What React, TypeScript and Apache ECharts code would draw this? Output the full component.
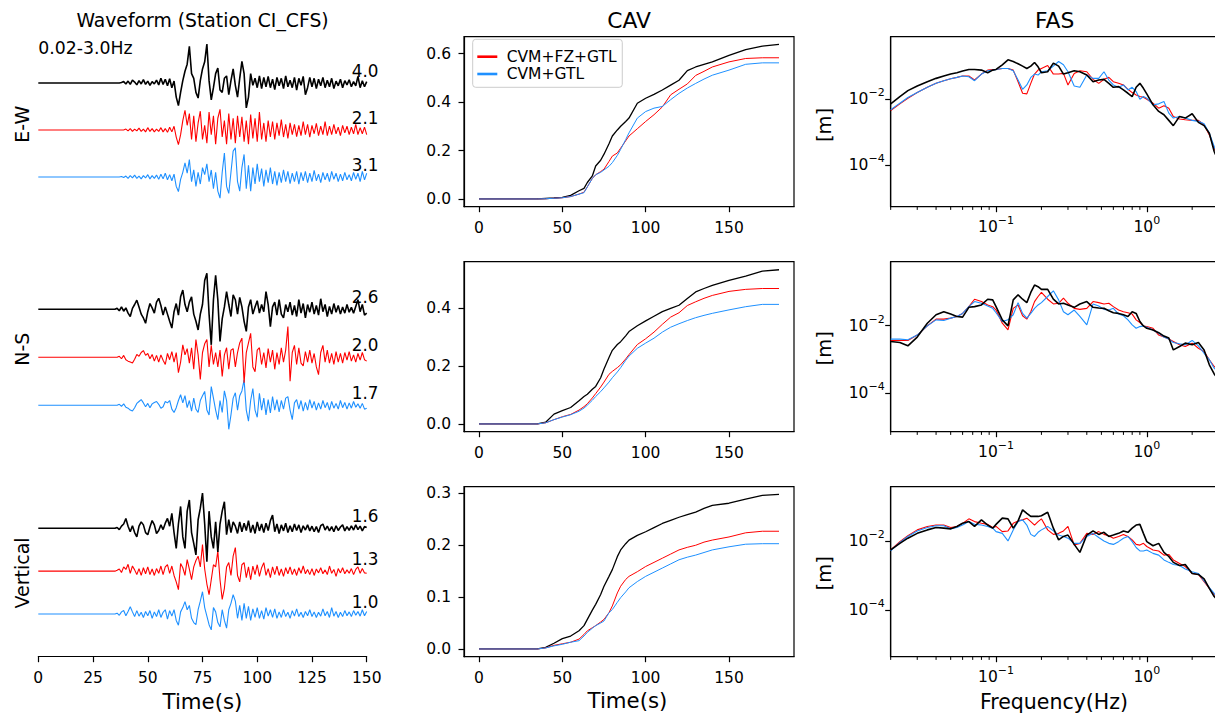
import React, { useEffect, useRef } from 'react';
import * as echarts from 'echarts';

const FONT = 'DejaVu Sans';
const C_OBS = '#000000';
const C_FZ = '#ff0000';
const C_GTL = '#1e90ff';
const NAME_OBS = 'Data';
const NAME_FZ = 'CVM+FZ+GTL';
const NAME_GTL = 'CVM+GTL';

const COMPONENTS = ['E-W', 'N-S', 'Vertical'];

// ---------------- Waveforms (normalised velocity, % of trace spacing), 1 s samples from 35 s ----------------
const WAVE_PRE_T = 0;
const WAVE_START = 35;
const WAVE_DT = 1;

const WAVE_EW_OBS = [
  0, 0, 0, 1, 3, -2, 4, -3, 6, 2,
  -4, 5, -2, 7, -3, 4, -5, 3, -2, 6,
  -4, 10, -3, 8, -6, 9, -10, 4, -30, -48,
  -20, 5, 25, 40, 78, 20, 10, -20, -32, 5,
  30, 45, 83, 5, -36, -10, 20, 32, -15, -20,
  10, 15, -25, 5, 30, -5, -30, 10, 46, 20,
  -53, -30, 20, -5, 10, -10, 15, -12, 12, -8,
  14, -10, 8, -14, 12, -6, 10, -12, 15, -8,
  6, -10, 12, -15, 10, -5, 14, -25, -10, 12,
  -8, 10, -12, 8, -6, 12, -10, 6, -8, 10,
  -12, 4, -6, 8, -10, 5, -4, 7, -8, 3,
  -6, 14, -10, 5, -8, 3,
];
const WAVE_EW_FZ = [
  0, 0, 0, 0, 0, 2, -2, 3, -3, 2,
  -2, 4, -3, 2, -4, 5, -3, 3, -4, 2,
  -3, 5, -4, 3, -5, 6, -4, 8, -15, -31,
  -10, 20, 42, 10, 35, -20, 30, -25, 15, 40,
  -20, 10, -28, 38, -10, 30, -30, 25, 44, -15,
  20, -30, 35, -20, 25, -28, 30, -15, 28, -25,
  20, -30, 33, -18, 25, -25, 38, -20, 15, -25,
  20, -15, 18, -20, 15, -12, 22, -15, 12, -18,
  15, -10, 12, -14, 10, -12, 18, -10, 12, -15,
  10, -8, 14, -12, 8, -10, 18, -12, 8, -10,
  12, -8, 6, -12, 10, -6, 8, -10, 6, -8,
  12, -10, 5, -8, 6, -10,
];
const WAVE_EW_GTL = [
  0, 0, 0, 1, -1, 2, -3, 3, -2, 4,
  -3, 2, -4, 3, -2, 5, -4, 3, -3, 4,
  -5, 6, -4, 8, -6, 5, -8, 6, -20, -31,
  -5, 10, 30, 8, 37, -10, 15, -20, 10, -15,
  20, 5, 28, -10, 15, -25, 10, -30, -45, 10,
  51, -20, -35, 10, 55, 62, -10, -30, 20, 48,
  -25, 25, -30, 20, -15, 28, -10, 18, -20, 15,
  -12, 20, -15, 12, -18, 10, -12, 15, -10, 12,
  -14, 8, -10, 12, -15, 10, -8, 12, -12, 8,
  -10, 14, -8, 6, -12, 10, -6, 8, -10, 12,
  -5, 8, -10, 6, -8, 10, -6, 5, -8, 10,
  -5, 8, -10, 12, -6, 8,
];
const WAVE_NS_OBS = [
  0, 2, -3, 5, -4, 3, -8, -15, 2, 10,
  19, 5, -10, -18, -29, -5, 12, 3, -8, 15,
  23, 8, -12, 5, -10, -25, -39, -5, 12, -12,
  26, 40, 10, -5, 15, 26, -10, -25, -43, -10,
  10, 60, 75, -10, -74, 20, 71, 20, -67, -20,
  5, 37, 10, -15, 30, 20, -10, 25, 5, -25,
  -46, 5, 20, -10, 5, 18, -8, 10, -5, 37,
  10, -36, 5, 15, -12, 20, -10, -18, 10, -5,
  15, -12, 8, -15, 20, -8, 12, -18, 10, -6,
  15, -10, 8, -12, 22, -5, 10, -15, 6, -10,
  12, -6, 8, -10, 5, -8, 10, -6, 4, -8,
  6, 20, -5, 10, -12, -8,
];
const WAVE_NS_FZ = [
  0, 0, 2, -3, 4, -5, -8, -10, -12, -4,
  6, 2, 10, 14, 4, 8, -3, 6, -8, 4,
  -10, 5, -6, -15, 8, -5, 12, -10, 10, -32,
  -10, 26, 5, 18, -12, 20, -25, 37, 5, -46,
  10, 28, 37, -20, 25, -15, 10, -20, 15, -40,
  5, 20, -25, 15, 18, -20, 10, 30, 40, -53,
  10, 30, 50, -20, -30, 15, 20, -15, 10, -22,
  18, -10, 15, -25, 10, -15, 20, -10, 15, 64,
  -50, 10, 25, -15, 20, -12, -18, 12, -10, 15,
  -12, 8, -20, -36, 10, 25, -10, 15, -12, 8,
  -15, 12, -10, 8, -12, 10, -6, 12, -8, 5,
  -10, 8, -6, 10, -5, -8,
];
const WAVE_NS_GTL = [
  0, 0, 2, -2, 3, -4, -6, -10, -12, -5,
  4, 8, 12, 5, -3, 4, -5, 3, 6, 8,
  2, -6, -3, 8, 5, 10, -8, -15, -5, 10,
  22, 5, 20, -5, 10, -12, 15, -8, -15, 10,
  20, 29, -10, -20, 39, 15, -10, -30, 10, -15,
  30, 10, -50, -20, 15, 26, -10, 20, 30, 53,
  -10, -33, 10, 35, -10, -25, 25, -10, 15, -20,
  12, -16, 18, -10, 12, -14, 10, -8, 15, 18,
  -10, -30, 5, 12, -8, 10, -12, 6, -10, 12,
  -6, 8, -10, 5, -8, 10, -5, 6, -10, 8,
  -6, 4, -8, 10, -5, 6, -8, 5, -6, 8,
  -4, 3, -6, 4, -8, -6,
];
const WAVE_UD_OBS = [
  0, 2, -3, 5, 10, 23, 5, -8, 6, -10,
  -20, 5, 15, 8, -10, -15, 3, 18, 8, -12,
  -5, 8, -3, 12, 23, 5, 35, -10, -47, 10,
  51, -20, -47, 40, 66, -10, -35, -62, 20, 47,
  82, 10, -78, 40, -20, -47, 15, -55, 10, 40,
  62, -15, 20, -10, 15, 5, -12, 15, -8, 12,
  -5, 18, -10, 8, -12, 15, -6, 10, -10, 12,
  -5, 18, 31, -8, 10, -12, 8, -6, 12, -10,
  6, -8, 10, -5, 8, -10, 6, -4, 8, -6,
  5, -8, 4, -10, 6, 10, -4, 5, -6, 4,
  -8, 6, -5, 3, 8, -6, 4, -5, 6, -4,
  8, -3, 5, -6, 4, 2,
];
const WAVE_UD_FZ = [
  0, 2, 5, -3, 10, 4, 16, -5, 12, 3,
  -8, 6, -10, 8, -6, 10, -8, 5, -10, 6,
  -5, 12, -8, 10, 15, -5, 12, -10, -25, -43,
  18, 8, -10, 27, 5, -20, 10, 25, 35, 10,
  62, 5, -30, -55, -20, 15, 10, 47, -20, -66,
  -40, 10, 20, -10, 35, 55, -10, -25, 15, 20,
  -15, 10, -20, 12, -8, 15, -12, 8, 20, -10,
  6, -15, 10, -8, 12, -10, 5, -12, 8, -6,
  10, -8, 5, -10, 8, -5, 12, -6, 4, -8,
  6, -10, 5, -4, 8, -6, 3, -8, 12, -5,
  4, -12, 6, -4, 8, -6, 3, -5, 6, -8,
  4, 10, -5, 6, -4, -5,
];
const WAVE_UD_GTL = [
  0, 2, -3, 5, 8, -4, 6, 17, 5, -6,
  8, -5, 4, -8, 6, -4, 8, -10, 5, -6,
  10, -8, 4, 10, -12, 8, -5, 10, -15, -26,
  5, 15, 29, 10, 20, -10, -20, -25, 10, 30,
  52, 15, -5, -25, -37, 15, 5, -20, -30, 10,
  -15, -33, 10, 25, 45, 30, -10, 20, -15, 25,
  -10, 18, -15, 12, -8, 15, -10, 8, -12, 15,
  -5, 10, -8, 12, -10, 5, -8, 10, -6, 4,
  -10, 8, -5, 12, -6, 4, -8, 6, -4, 10,
  -6, 5, -8, 4, -5, 12, -4, 6, -8, 15,
  -5, 6, -8, 4, -6, 8, -4, 5, -6, 8,
  -3, 6, -5, 10, -4, 6,
];
// peak values printed at the end of each trace
const PEAK_EW = [4.0, 2.1, 3.1];
const PEAK_NS = [2.6, 2.0, 1.7];
const PEAK_UD = [1.6, 1.3, 1.0];

// ---------------- CAV ----------------
const CAV_T = [0, 35, 40, 45, 50, 55, 60, 63, 65, 68, 70, 73, 75, 78, 80, 83, 85, 88, 90, 95, 100, 105, 110, 115, 120, 125, 130, 135, 140, 150, 160, 170, 180];
const CAV_EW_OBS = [0, 0, 0.002, 0.004, 0.007, 0.015, 0.034, 0.044, 0.068, 0.095, 0.136, 0.16, 0.185, 0.228, 0.26, 0.285, 0.3, 0.32, 0.334, 0.395, 0.416, 0.432, 0.45, 0.47, 0.49, 0.53, 0.545, 0.556, 0.566, 0.593, 0.617, 0.631, 0.638];
const CAV_EW_FZ = [0, 0, 0.001, 0.003, 0.005, 0.01, 0.02, 0.028, 0.05, 0.085, 0.1, 0.113, 0.123, 0.155, 0.177, 0.19, 0.21, 0.24, 0.26, 0.29, 0.32, 0.348, 0.38, 0.43, 0.453, 0.475, 0.51, 0.527, 0.545, 0.566, 0.58, 0.583, 0.583];
const CAV_EW_GTL = [0, 0, 0.001, 0.003, 0.005, 0.01, 0.02, 0.026, 0.05, 0.085, 0.1, 0.11, 0.12, 0.135, 0.15, 0.18, 0.205, 0.245, 0.273, 0.334, 0.361, 0.375, 0.382, 0.41, 0.436, 0.458, 0.477, 0.495, 0.511, 0.532, 0.556, 0.562, 0.562];
const CAV_NS_OBS = [0, 0, 0.006, 0.034, 0.046, 0.057, 0.08, 0.095, 0.103, 0.12, 0.13, 0.16, 0.19, 0.23, 0.255, 0.275, 0.285, 0.305, 0.32, 0.34, 0.357, 0.373, 0.389, 0.4, 0.411, 0.434, 0.457, 0.469, 0.48, 0.497, 0.512, 0.529, 0.534];
const CAV_NS_FZ = [0, 0, 0.004, 0.015, 0.025, 0.033, 0.048, 0.06, 0.07, 0.09, 0.105, 0.128, 0.145, 0.172, 0.182, 0.195, 0.205, 0.225, 0.24, 0.275, 0.295, 0.318, 0.345, 0.37, 0.385, 0.41, 0.423, 0.435, 0.445, 0.459, 0.466, 0.469, 0.469];
const CAV_NS_GTL = [0, 0, 0.004, 0.015, 0.024, 0.032, 0.044, 0.055, 0.065, 0.082, 0.095, 0.112, 0.125, 0.145, 0.16, 0.18, 0.195, 0.22, 0.235, 0.262, 0.28, 0.297, 0.318, 0.335, 0.347, 0.358, 0.368, 0.376, 0.383, 0.395, 0.406, 0.414, 0.414];
const CAV_UD_OBS = [0, 0, 0.003, 0.011, 0.02, 0.025, 0.035, 0.045, 0.057, 0.075, 0.086, 0.105, 0.121, 0.14, 0.153, 0.178, 0.191, 0.203, 0.21, 0.219, 0.226, 0.234, 0.242, 0.248, 0.254, 0.259, 0.264, 0.271, 0.277, 0.281, 0.289, 0.296, 0.298];
const CAV_UD_FZ = [0, 0, 0.002, 0.007, 0.01, 0.013, 0.019, 0.028, 0.035, 0.041, 0.045, 0.052, 0.057, 0.07, 0.083, 0.108, 0.121, 0.134, 0.14, 0.149, 0.159, 0.167, 0.175, 0.183, 0.191, 0.196, 0.2, 0.206, 0.21, 0.216, 0.224, 0.227, 0.227];
const CAV_UD_GTL = [0, 0, 0.002, 0.006, 0.009, 0.013, 0.016, 0.025, 0.032, 0.04, 0.045, 0.05, 0.054, 0.07, 0.076, 0.09, 0.099, 0.11, 0.118, 0.13, 0.14, 0.148, 0.156, 0.164, 0.172, 0.177, 0.181, 0.186, 0.191, 0.197, 0.202, 0.203, 0.203];

// ---------------- FAS (log10 of amplitude in m) ----------------
const FAS_FREQ = [0.02, 0.023, 0.026, 0.03, 0.035, 0.04, 0.045, 0.05, 0.055, 0.06, 0.066, 0.072, 0.08, 0.088, 0.095, 0.1, 0.11, 0.12, 0.13, 0.14, 0.15, 0.16, 0.17, 0.18, 0.19, 0.2, 0.22, 0.24, 0.26, 0.28, 0.3, 0.33, 0.36, 0.4, 0.44, 0.48, 0.52, 0.56, 0.6, 0.65, 0.7, 0.75, 0.8, 0.85, 0.9, 0.95, 1.0, 1.1, 1.2, 1.3, 1.4, 1.5, 1.65, 1.8, 2.0, 2.2, 2.4, 2.6, 2.8, 3.0];
const FAS_EW_OBS = [
  -2.14, -1.92, -1.74, -1.6, -1.47, -1.37, -1.3, -1.24, -1.2, -1.15,
  -1.1, -1.1, -1.12, -1.2, -1.12, -1.1, -0.96, -0.81, -0.86, -0.93,
  -1.0, -1.07, -1.0, -0.89, -1.02, -1.2, -1.17, -0.91, -1.0, -1.24,
  -1.2, -1.14, -1.17, -1.27, -1.47, -1.42, -1.4, -1.52, -1.64, -1.62,
  -1.72, -1.82, -1.92, -1.64, -1.52, -1.67, -1.84, -2.17, -2.37, -2.47,
  -2.64, -2.8, -2.52, -2.57, -2.44, -2.7, -2.8, -3.03, -3.58, -3.9,
];
const FAS_EW_FZ = [
  -2.34, -2.14, -1.97, -1.8, -1.64, -1.52, -1.44, -1.38, -1.34, -1.3,
  -1.3, -1.42, -1.24, -1.12, -1.1, -1.1, -1.07, -1.07, -1.12, -1.47,
  -1.82, -1.84, -1.52, -1.24, -1.12, -1.07, -0.98, -1.24, -1.24, -1.22,
  -1.57, -1.22, -1.14, -1.17, -1.4, -1.52, -1.4, -1.34, -1.47, -1.52,
  -1.57, -1.7, -1.8, -1.87, -1.92, -1.94, -2.0, -2.12, -2.27, -2.2,
  -2.27, -2.52, -2.6, -2.62, -2.64, -2.64, -2.77, -3.08, -3.48, -3.8,
];
const FAS_EW_GTL = [
  -2.32, -2.12, -1.95, -1.8, -1.64, -1.52, -1.44, -1.38, -1.34, -1.3,
  -1.32, -1.44, -1.24, -1.14, -1.12, -1.1, -1.07, -1.07, -1.14, -1.42,
  -1.7, -1.57, -1.34, -1.24, -1.27, -1.17, -1.14, -1.0, -0.86, -0.96,
  -1.17, -1.6, -1.64, -1.27, -1.37, -1.37, -1.17, -1.42, -1.57, -1.64,
  -1.57, -1.72, -1.64, -1.77, -2.0, -1.92, -1.97, -2.17, -2.14, -2.07,
  -2.42, -2.57, -2.52, -2.57, -2.64, -2.67, -2.74, -3.03, -3.43, -3.75,
];
const FAS_NS_OBS = [
  -2.47, -2.5, -2.6, -2.34, -1.93, -1.68, -1.59, -1.66, -1.73, -1.75,
  -1.46, -1.44, -1.39, -1.22, -1.24, -1.44, -1.83, -2.01, -1.24, -1.09,
  -1.22, -1.32, -1.02, -0.8, -0.85, -0.93, -0.93, -1.22, -1.36, -1.34,
  -1.39, -1.46, -1.36, -1.29, -1.46, -1.48, -1.49, -1.56, -1.62, -1.64,
  -1.68, -1.73, -1.59, -1.64, -1.88, -2.01, -2.08, -2.13, -2.21, -2.31,
  -2.37, -2.72, -2.62, -2.52, -2.57, -2.5, -2.72, -3.16, -3.43, -3.6,
];
const FAS_NS_FZ = [
  -2.44, -2.44, -2.44, -2.28, -2.01, -1.81, -1.81, -1.78, -1.73, -1.64,
  -1.44, -1.22, -1.29, -1.39, -1.44, -1.54, -1.93, -2.13, -1.49, -1.39,
  -1.71, -1.81, -1.59, -1.29, -1.14, -1.02, -1.22, -1.36, -1.34, -1.19,
  -1.34, -1.49, -1.52, -1.49, -1.29, -1.32, -1.36, -1.34, -1.44, -1.54,
  -1.59, -1.62, -1.66, -1.83, -1.91, -2.01, -2.03, -2.08, -2.28, -2.34,
  -2.4, -2.47, -2.57, -2.62, -2.52, -2.67, -2.77, -3.01, -3.21, -3.35,
];
const FAS_NS_GTL = [
  -2.4, -2.4, -2.42, -2.28, -2.01, -1.83, -1.85, -1.78, -1.73, -1.64,
  -1.44, -1.29, -1.34, -1.42, -1.49, -1.62, -1.88, -1.83, -1.68, -1.32,
  -1.64, -1.78, -1.64, -1.49, -1.39, -1.32, -1.14, -0.97, -1.24, -1.59,
  -1.68, -1.54, -1.73, -1.98, -1.36, -1.42, -1.52, -1.54, -1.49, -1.66,
  -1.71, -1.83, -1.98, -2.08, -2.03, -2.01, -2.05, -2.13, -2.23, -2.34,
  -2.4, -2.5, -2.54, -2.57, -2.44, -2.6, -2.82, -3.01, -3.26, -3.4,
];
const FAS_UD_OBS = [
  -2.26, -2.07, -1.92, -1.78, -1.68, -1.61, -1.63, -1.65, -1.58, -1.49,
  -1.44, -1.58, -1.39, -1.54, -1.63, -1.52, -1.34, -1.36, -1.63, -1.42,
  -1.1, -1.2, -1.29, -1.29, -1.29, -1.27, -1.17, -1.63, -1.97, -1.87,
  -1.83, -2.1, -2.33, -1.83, -1.71, -1.81, -1.75, -1.87, -1.83, -1.78,
  -1.71, -1.75, -1.63, -1.54, -1.52, -1.78, -2.02, -2.14, -2.07, -2.33,
  -2.45, -2.62, -2.71, -2.68, -2.94, -2.97, -3.1, -3.37, -3.61, -3.75,
];
const FAS_UD_FZ = [
  -2.26, -2.02, -1.85, -1.68, -1.58, -1.54, -1.54, -1.61, -1.58, -1.49,
  -1.36, -1.44, -1.49, -1.52, -1.61, -1.58, -1.73, -1.71, -1.49, -1.42,
  -1.39, -1.34, -1.44, -1.54, -1.44, -1.36, -1.68, -1.81, -1.78, -1.71,
  -1.58, -2.12, -2.07, -1.78, -1.81, -1.73, -1.81, -1.85, -1.92, -1.87,
  -1.81, -1.87, -1.97, -2.1, -2.12, -2.07, -2.16, -2.26, -2.29, -2.41,
  -2.39, -2.55, -2.65, -2.74, -2.94, -2.97, -3.18, -3.37, -3.55, -3.7,
];
const FAS_UD_GTL = [
  -2.29, -2.04, -1.87, -1.71, -1.61, -1.56, -1.56, -1.65, -1.61, -1.54,
  -1.44, -1.52, -1.54, -1.58, -1.63, -1.73, -1.78, -2.0, -1.68, -1.44,
  -1.39, -1.54, -1.81, -1.87, -1.75, -1.68, -1.58, -1.71, -1.83, -1.87,
  -1.92, -2.07, -2.07, -1.87, -1.78, -1.9, -2.0, -2.07, -2.1, -2.02,
  -1.92, -1.87, -2.02, -2.19, -2.29, -2.29, -2.26, -2.36, -2.41, -2.55,
  -2.62, -2.68, -2.71, -2.81, -2.89, -2.94, -3.16, -3.35, -3.52, -3.7,
];
const FAS_MAJOR_X = [0.1, 1];
const FAS_MINOR_X = [0.02, 0.03, 0.04, 0.05, 0.06, 0.07, 0.08, 0.09, 0.2, 0.3, 0.4, 0.5, 0.6, 0.7, 0.8, 0.9, 2, 3];
const FAS_MAJOR_Y = [1e-4, 1e-2];

// ---------------- layout (pixels) ----------------
const ROW_TOP = [36.7, 261.7, 486.7];
const ROW_H = 170;
const COL_LEFT = [38.3, 464, 890.7];
const COL_W = [328.4, 330, 328];
const WAVE_YLIM = [[-2.632, 0.985], [-2.55, 0.992], [-2.996, 0.971]];
const CAV_XLIM = [-9, 189];
const CAV_XTICKS = [0, 50, 100, 150];
const CAV_YLIM = [[-0.0319, 0.67], [-0.0268, 0.5618], [-0.0149, 0.3129]];
const CAV_YTICKS = [[0, 0.2, 0.4, 0.6], [0, 0.2, 0.4], [0, 0.1, 0.2, 0.3]];
const FAS_XLIM = [0.02, 3];
const FAS_YLIM_EXP = [[-5.25, -0.11], [-5.14, -0.11], [-5.35, -0.43]];
const LABEL_T = 149.3;
const LABEL_RAISE_PX = 12;
const TICK_FS = 15.5;

const pow10Label = (v: number) => {
  const e = Math.round(Math.log10(v));
  return '{b|10}{s|' + String(e).replace('-', '\u2212') + '}';
};
const powRich = {
  b: { fontFamily: FONT, fontSize: TICK_FS, color: '#000' },
  s: { fontFamily: FONT, fontSize: 11, color: '#000', padding: [0, 0, 13, 0] },
};

const axisLineStyle = { show: true, onZero: false, lineStyle: { color: '#000', width: 1.2 } };
const axisTickStyle = { show: true, length: 5.5, lineStyle: { color: '#000', width: 1.2 } };
const axisLabelStyle = { color: '#000', fontFamily: FONT, fontSize: TICK_FS };

function buildOption() {
  const grids: any[] = [];
  const xAxes: any[] = [];
  const yAxes: any[] = [];
  const series: any[] = [];
  const waves = [
    [WAVE_EW_OBS, WAVE_EW_FZ, WAVE_EW_GTL],
    [WAVE_NS_OBS, WAVE_NS_FZ, WAVE_NS_GTL],
    [WAVE_UD_OBS, WAVE_UD_FZ, WAVE_UD_GTL],
  ];
  const peaks = [PEAK_EW, PEAK_NS, PEAK_UD];
  const cavs = [
    [CAV_EW_OBS, CAV_EW_FZ, CAV_EW_GTL],
    [CAV_NS_OBS, CAV_NS_FZ, CAV_NS_GTL],
    [CAV_UD_OBS, CAV_UD_FZ, CAV_UD_GTL],
  ];
  const fass = [
    [FAS_EW_OBS, FAS_EW_FZ, FAS_EW_GTL],
    [FAS_NS_OBS, FAS_NS_FZ, FAS_NS_GTL],
    [FAS_UD_OBS, FAS_UD_FZ, FAS_UD_GTL],
  ];
  const colors = [C_OBS, C_FZ, C_GTL];
  const names = [NAME_OBS, NAME_FZ, NAME_GTL];
  const waveWidths = [1.6, 1.1, 1.1];
  const cavWidths = [1.3, 1.0, 1.0];
  const fasWidths = [1.6, 1.1, 1.1];

  for (let r = 0; r < 3; r++) {
    // ---- waveform panel
    let gi = grids.length;
    grids.push({ left: COL_LEFT[0], top: ROW_TOP[r], width: COL_W[0], height: ROW_H, show: false, outerBoundsMode: 'none' });
    xAxes.push({
      gridIndex: gi, type: 'value', min: 0, max: 150, interval: 25, show: r === 2,
      axisLine: axisLineStyle, axisTick: axisTickStyle, axisLabel: { ...axisLabelStyle, margin: 13 }, splitLine: { show: false },
    });
    const [ymin, ymax] = WAVE_YLIM[r];
    yAxes.push({ gridIndex: gi, type: 'value', min: ymin, max: ymax, show: false, splitLine: { show: false } });
    waves[r].forEach((amp, k) => {
      const data: number[][] = [[WAVE_PRE_T, -k]];
      amp.forEach((a, i) => data.push([WAVE_START + i * WAVE_DT, -k + a / 100]));
      series.push({
        type: 'line', name: names[k], xAxisIndex: gi, yAxisIndex: gi, data, showSymbol: false, symbol: 'none',
        lineStyle: { color: colors[k], width: waveWidths[k] }, itemStyle: { color: colors[k] }, silent: true, z: 3 - k,
      });
    });
    const raise = (LABEL_RAISE_PX * (ymax - ymin)) / ROW_H;
    series.push({
      type: 'scatter', xAxisIndex: gi, yAxisIndex: gi, symbolSize: 0, silent: true,
      itemStyle: { color: '#000000', opacity: 1 },
      data: peaks[r].map((p, k) => [LABEL_T, -k + raise, p]),
      label: {
        show: true, position: 'inside', color: '#000000', opacity: 1, fontFamily: FONT, fontSize: 16.8,
        textBorderWidth: 0, textBorderColor: 'transparent',
        formatter: (p: any) => Number(p.value[2]).toFixed(1),
      },
      emphasis: { disabled: true },
      z: 5,
    });

    // ---- CAV panel
    gi = grids.length;
    grids.push({ left: COL_LEFT[1], top: ROW_TOP[r], width: COL_W[1], height: ROW_H, show: true, borderColor: '#000', borderWidth: 1.2, outerBoundsMode: 'none' });
    xAxes.push({
      gridIndex: gi, type: 'value', min: CAV_XLIM[0], max: CAV_XLIM[1],
      axisLine: axisLineStyle, axisTick: { ...axisTickStyle, customValues: CAV_XTICKS },
      axisLabel: { ...axisLabelStyle, margin: 13, customValues: CAV_XTICKS }, splitLine: { show: false },
    });
    yAxes.push({
      gridIndex: gi, type: 'value', min: CAV_YLIM[r][0], max: CAV_YLIM[r][1],
      axisLine: axisLineStyle, axisTick: { ...axisTickStyle, customValues: CAV_YTICKS[r] },
      axisLabel: { ...axisLabelStyle, margin: 13, customValues: CAV_YTICKS[r], formatter: (v: number) => v.toFixed(1) },
      splitLine: { show: false },
    });
    cavs[r].forEach((vals, k) => {
      series.push({
        type: 'line', name: names[k], xAxisIndex: gi, yAxisIndex: gi, data: CAV_T.map((t, i) => [t, vals[i]]),
        showSymbol: false, symbol: 'none', lineStyle: { color: colors[k], width: cavWidths[k] }, itemStyle: { color: colors[k] },
        silent: true, z: 3,
      });
    });

    // ---- FAS panel
    gi = grids.length;
    grids.push({ left: COL_LEFT[2], top: ROW_TOP[r], width: COL_W[2], height: ROW_H, show: true, borderColor: '#000', borderWidth: 1.2, outerBoundsMode: 'none' });
    xAxes.push({
      gridIndex: gi, type: 'log', logBase: 10, min: FAS_XLIM[0], max: FAS_XLIM[1],
      axisLine: axisLineStyle, axisTick: { ...axisTickStyle, customValues: FAS_MAJOR_X },
      axisLabel: { ...axisLabelStyle, margin: 8, customValues: FAS_MAJOR_X, formatter: pow10Label, rich: powRich }, splitLine: { show: false },
    });
    yAxes.push({
      gridIndex: gi, type: 'log', logBase: 10, min: Math.pow(10, FAS_YLIM_EXP[r][0]), max: Math.pow(10, FAS_YLIM_EXP[r][1]),
      axisLine: axisLineStyle, axisTick: { ...axisTickStyle, customValues: FAS_MAJOR_Y },
      axisLabel: { ...axisLabelStyle, margin: 6, customValues: FAS_MAJOR_Y, formatter: pow10Label, rich: powRich }, splitLine: { show: false },
    });
    fass[r].forEach((vals, k) => {
      series.push({
        type: 'line', name: names[k], xAxisIndex: gi, yAxisIndex: gi,
        data: FAS_FREQ.map((f, i) => [f, Math.pow(10, vals[i])]),
        showSymbol: false, symbol: 'none', lineStyle: { color: colors[k], width: fasWidths[k] }, itemStyle: { color: colors[k] },
        silent: true, z: k === 0 ? 4 : 3,
      });
    });
    series.push({
      type: 'custom', xAxisIndex: gi, yAxisIndex: gi, silent: true, clip: false,
      data: FAS_MINOR_X.map((f) => [f, 1e-3]),
      encode: { x: 0, y: 1 },
      renderItem: (params: any, api: any) => {
        const x = api.coord([api.value(0), api.value(1)])[0];
        const cs = params.coordSys;
        const y0 = cs.y + cs.height;
        return { type: 'line', shape: { x1: x, y1: y0, x2: x, y2: y0 + 3.2 }, style: { stroke: '#000', lineWidth: 1 } };
      },
      z: 6,
    });
  }

  const txt = (text: string, x: number, y: number, size: number, rotation = 0, align = 'center') => ({
    type: 'text', x, y, rotation, silent: true,
    style: { text, fill: '#000', fontFamily: FONT, fontSize: size, align, verticalAlign: 'middle' },
  });
  const graphic: any[] = [
    txt('Waveform (Station CI_CFS)', 202.5, 20.3, 18.8),
    txt('0.02-3.0Hz', 38.3, 47.5, 17.3, 0, 'left'),
    txt('CAV', 629, 20.8, 21.8),
    txt('FAS', 1054.7, 20.8, 21.8),
    txt(COMPONENTS[0], 21.7, 124.2, 19, Math.PI / 2),
    txt(COMPONENTS[1], 21.5, 349.2, 19, Math.PI / 2),
    txt(COMPONENTS[2], 21.5, 573, 19, Math.PI / 2),
    txt('[m]', 824, 125, 19.5, Math.PI / 2),
    txt('[m]', 824, 348.3, 19.5, Math.PI / 2),
    txt('[m]', 824, 573.3, 19.5, Math.PI / 2),
    txt('Time(s)', 202.5, 701, 21.3),
    txt('Time(s)', 627.5, 700, 21.3),
    txt('Frequency(Hz)', 1054, 701.7, 20.5),
  ];

  return {
    animation: false,
    backgroundColor: '#ffffff',
    textStyle: { fontFamily: FONT },
    grid: grids,
    xAxis: xAxes,
    yAxis: yAxes,
    series,
    graphic,
    legend: {
      left: 472.7, top: 39.3, orient: 'vertical', selectedMode: false,
      data: [{ name: NAME_FZ, icon: 'rect' }, { name: NAME_GTL, icon: 'rect' }],
      itemWidth: 20, itemHeight: 2.6, itemGap: 0.3,
      padding: [8.9, 5.7, 4.8, 4.6],
      borderColor: '#cccccc', borderWidth: 1, borderRadius: 3, backgroundColor: 'rgba(255,255,255,0.8)',
      textStyle: { fontFamily: FONT, fontSize: TICK_FS, color: '#000', lineHeight: 17, padding: [0, 0, 0, 4.4] },
    },
  };
}

export default function App() {
  const ref = useRef<HTMLDivElement>(null);
  useEffect(() => {
    if (!ref.current) return;
    const chart = echarts.init(ref.current, undefined, { renderer: 'svg' });
    chart.setOption(buildOption() as any);
    return () => chart.dispose();
  }, []);
  return (
    <div
      ref={ref}
      style={{ position: 'fixed', left: 0, top: 0, width: 1232, height: 720, background: '#fff' }}
    />
  );
}
